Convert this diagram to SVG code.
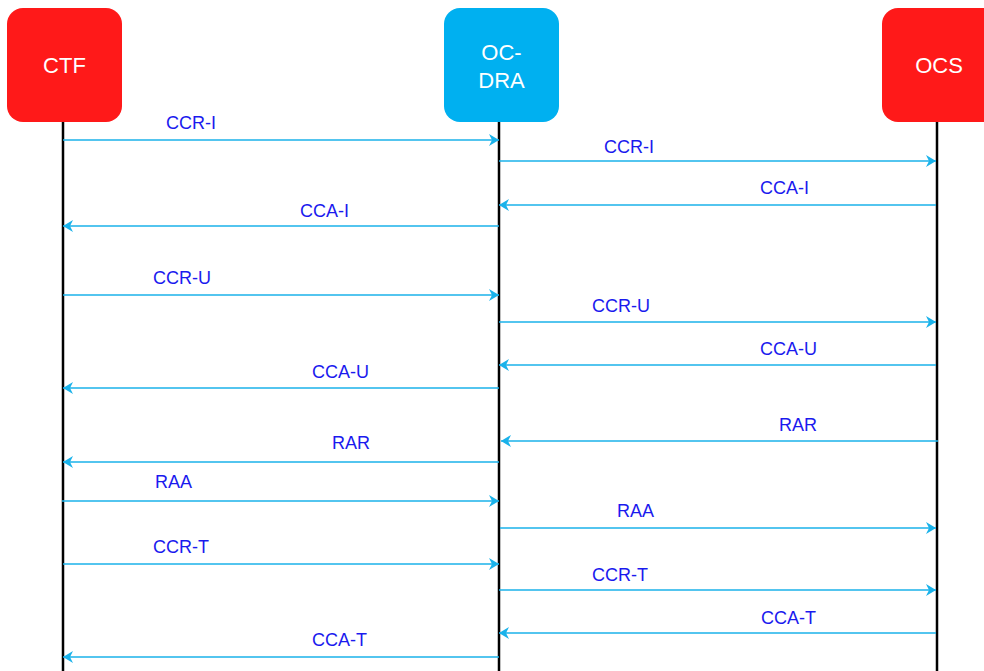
<svg xmlns="http://www.w3.org/2000/svg" width="984" height="671" viewBox="0 0 984 671">
<style>
.box-red{fill:#ff1919}
.box-blue{fill:#00b0f0}
.ntext{font-family:"Liberation Sans",Arial,sans-serif;font-size:22px;fill:#ffffff;text-anchor:middle}
.life{stroke:#000000;stroke-width:2.5;fill:none}
.msg{stroke:#1ab2ea;stroke-width:1.6;fill:none;marker-end:url(#ah)}
.lbl{font-family:"Liberation Sans",Arial,sans-serif;font-size:18px;fill:#1a1aee}
</style>
<defs>
<marker id="ah" markerUnits="userSpaceOnUse" viewBox="0 0 10 12" markerWidth="10" markerHeight="13" refX="10" refY="6" orient="auto">
<path d="M0,0 L10,6 L0,12 L3,6 Z" fill="#1ab2ea"/>
</marker>
</defs>
<rect width="984" height="671" fill="#ffffff"/>
<g id="lifelines">
<line class="life" x1="63" y1="122" x2="63" y2="671"/>
<line class="life" x1="499" y1="122" x2="499" y2="671"/>
<line class="life" x1="937" y1="122" x2="937" y2="671"/>
</g>
<g id="node-ctf">
<rect class="box-red" x="7" y="8" width="115" height="114" rx="16"/>
<text class="ntext" x="64.5" y="73">CTF</text>
</g>
<g id="node-ocdra">
<rect class="box-blue" x="444" y="8" width="115" height="114" rx="16"/>
<text class="ntext" x="501.5" y="60">OC-</text>
<text class="ntext" x="501.5" y="88">DRA</text>
</g>
<g id="node-ocs">
<rect class="box-red" x="882" y="8" width="116" height="114" rx="16"/>
<text class="ntext" x="939" y="73">OCS</text>
</g>
<g id="connectors">
<line class="msg" x1="63" y1="140" x2="499" y2="140"/>
<line class="msg" x1="499" y1="161" x2="936" y2="161"/>
<line class="msg" x1="936" y1="205" x2="499" y2="205"/>
<line class="msg" x1="499" y1="226" x2="63" y2="226"/>
<line class="msg" x1="63" y1="295" x2="499" y2="295"/>
<line class="msg" x1="499" y1="322" x2="936" y2="322"/>
<line class="msg" x1="936" y1="365" x2="499" y2="365"/>
<line class="msg" x1="499" y1="388" x2="63" y2="388"/>
<line class="msg" x1="938" y1="441" x2="501" y2="441"/>
<line class="msg" x1="499" y1="462" x2="63" y2="462"/>
<line class="msg" x1="62" y1="501" x2="499" y2="501"/>
<line class="msg" x1="500" y1="528" x2="936" y2="528"/>
<line class="msg" x1="63" y1="564" x2="499" y2="564"/>
<line class="msg" x1="499" y1="590" x2="936" y2="590"/>
<line class="msg" x1="936" y1="633" x2="499" y2="633"/>
<line class="msg" x1="499" y1="657" x2="63" y2="657"/>
</g>
<g id="labels">
<text class="lbl" x="166" y="129">CCR-I</text>
<text class="lbl" x="604" y="153">CCR-I</text>
<text class="lbl" x="760" y="194">CCA-I</text>
<text class="lbl" x="300" y="217">CCA-I</text>
<text class="lbl" x="153" y="284">CCR-U</text>
<text class="lbl" x="592" y="312">CCR-U</text>
<text class="lbl" x="760" y="355">CCA-U</text>
<text class="lbl" x="312" y="378">CCA-U</text>
<text class="lbl" x="779" y="431">RAR</text>
<text class="lbl" x="332" y="449">RAR</text>
<text class="lbl" x="155" y="488">RAA</text>
<text class="lbl" x="617" y="517">RAA</text>
<text class="lbl" x="153" y="553">CCR-T</text>
<text class="lbl" x="592" y="581">CCR-T</text>
<text class="lbl" x="761" y="624">CCA-T</text>
<text class="lbl" x="312" y="646">CCA-T</text>
</g>
</svg>
